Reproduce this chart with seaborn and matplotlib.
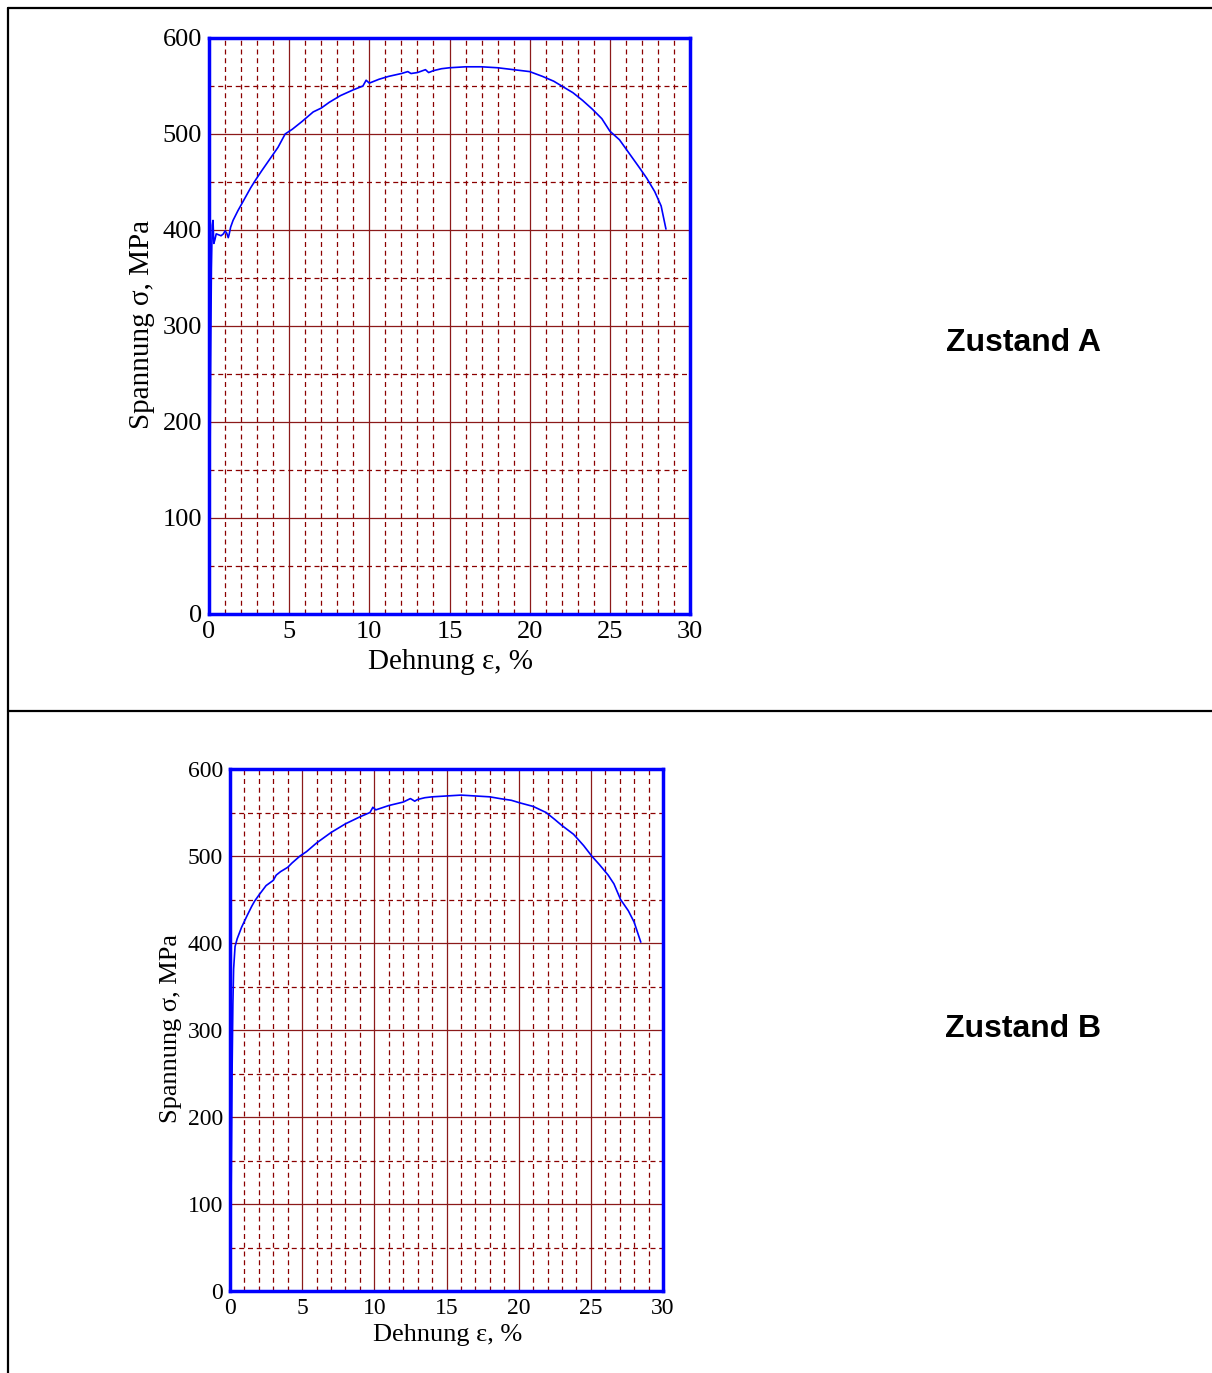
import matplotlib
matplotlib.use("Agg")
import matplotlib.pyplot as plt
from matplotlib.lines import Line2D
from matplotlib.ticker import MultipleLocator
import seaborn as sns
import pandas as pd

sns.set_theme(style="white")
plt.rcParams['font.family'] = ['Liberation Serif', 'DejaVu Serif']
plt.rcParams['text.color'] = 'black'
plt.rcParams['axes.labelcolor'] = 'black'
plt.rcParams['xtick.color'] = 'black'
plt.rcParams['ytick.color'] = 'black'

# ---- data: Zustand A ----
strain_a = [0, 0.05, 0.10, 0.15, 0.20, 0.25, 0.30, 0.37, 0.45, 0.6, 0.75, 0.9, 1.0, 1.1, 1.2, 1.25,
            1.35, 1.5, 1.8, 2.2, 2.6, 2.9, 3.3, 3.8, 4.3, 4.75, 5.2, 5.8, 6.5, 7.0, 7.5, 8.2, 9.0,
            9.6, 9.8, 10.0, 10.6, 11.2, 12.0, 12.4, 12.6, 13.0, 13.5, 13.7, 14.0, 14.5, 15.0, 16.0,
            17.0, 18.0, 19.0, 20.0, 20.8, 21.5, 22.0, 22.7, 23.3, 23.9, 24.5, 25.0, 25.6, 26.2,
            26.8, 27.3, 27.8, 28.2, 28.5]
stress_a = [0, 120, 260, 360, 405, 410, 386, 390, 396, 395, 394, 396, 399, 397, 392, 395,
            403, 410, 420, 432, 444, 452, 462, 474, 486, 500, 505, 513, 523, 527, 533, 540, 546,
            550, 556, 553, 557, 560, 563, 565, 563, 564, 567, 564, 566, 568, 569, 570,
            570, 569, 567, 565, 560, 555, 550, 543, 535, 526, 516, 503, 494, 480,
            466, 454, 440, 425, 401]

# ---- data: Zustand B ----
strain_b = [0, 0.05, 0.10, 0.15, 0.20, 0.25, 0.35, 0.5, 0.8, 1.2, 1.5, 1.7, 2.0, 2.5, 3.0,
            3.2, 3.5, 4.0, 4.3, 4.85, 5.3, 6.0, 7.0, 8.0, 9.0, 9.7, 9.9, 10.1, 11.0, 12.0,
            12.5, 12.8, 13.0, 13.5, 14.0, 15.0, 16.0, 17.0, 18.0, 18.7, 19.5, 20.1, 21.0,
            21.9, 22.5, 23.0, 23.8, 24.5, 25.06, 25.6, 26.2, 26.6, 27.06, 27.6, 28.0, 28.46]
stress_b = [0, 60, 160, 260, 330, 370, 396, 405, 418, 432, 442, 448, 455, 466, 472,
            478, 482, 487, 492, 500, 505, 515, 527, 537, 545, 550, 556, 553, 558, 562,
            566, 563, 565, 567, 568, 569, 570, 569, 568, 566, 564, 561, 557,
            550, 542, 535, 525, 512, 500, 490, 478, 468, 450, 437, 424, 401]

x_ticks = [0, 5, 10, 15, 20, 25, 30]
y_ticks = [0, 100, 200, 300, 400, 500, 600]
x_label = "Dehnung ε, %"
y_label = "Spannung σ, MPa"
titles = ["Zustand A", "Zustand B"]

W, H = 1212, 1373
fig = plt.figure(figsize=(W / 100, H / 100), dpi=100)

def px_axes(x0, x1, y_top, y_bot):
    return fig.add_axes([x0 / W, 1 - y_bot / H, (x1 - x0) / W, (y_bot - y_top) / H])

ax_a = px_axes(209, 690, 38, 614)
ax_b = px_axes(230, 663, 769, 1291)

grid_major = '#8B1A1A'
grid_minor = '#8B0000'

def style(ax, strain, stress, fs_tick, fs_label, ylab_x, xlab_y):
    df = pd.DataFrame({"strain": strain, "stress": stress})
    sns.lineplot(data=df, x="strain", y="stress", ax=ax, color='#0000FF', lw=1.2,
                 sort=False, estimator=None)
    ax.set_xlim(0, 30)
    ax.set_ylim(0, 600)
    ax.set_xticks(x_ticks)
    ax.set_yticks(y_ticks)
    ax.xaxis.set_minor_locator(MultipleLocator(1))
    ax.yaxis.set_minor_locator(MultipleLocator(50))
    ax.grid(True, which='major', color=grid_major, lw=0.9, ls='-')
    ax.grid(True, which='minor', color=grid_minor, lw=0.9, ls=(0, (4, 3)))
    ax.set_axisbelow(True)
    ax.tick_params(which='both', length=0, labelsize=fs_tick, colors='black')
    ax.tick_params(axis='y', pad=5)
    ax.tick_params(axis='x', pad=5)
    for s in ax.spines.values():
        s.set_color('#0000FF')
        s.set_linewidth(2.5)
        s.set_visible(True)
    ax.set_xlabel(x_label, fontsize=fs_label, color='black')
    ax.set_ylabel(y_label, fontsize=fs_label, color='black')
    ax.xaxis.set_label_coords(0.502, xlab_y)
    ax.yaxis.set_label_coords(ylab_x, 0.503)

style(ax_a, strain_a, stress_a, 19, 21, -0.112, -0.06)
style(ax_b, strain_b, stress_b, 17, 19, -0.111, -0.064)

fig.text(1023 / W, 1 - 343 / H, titles[0], fontsize=23, fontweight='bold',
         family='Liberation Sans', ha='center', va='center', color='black')
fig.text(1023 / W, 1 - 1029 / H, titles[1], fontsize=23, fontweight='bold',
         family='Liberation Sans', ha='center', va='center', color='black')

# table frame lines
for (x0, y0, x1, y1) in [(8, 8, W, 8), (8, 8, 8, H), (8, 711, W, 711)]:
    fig.add_artist(Line2D([x0 / W, x1 / W], [1 - y0 / H, 1 - y1 / H],
                          color='black', lw=1.6, transform=fig.transFigure))

fig.savefig("out.png", dpi=100)
